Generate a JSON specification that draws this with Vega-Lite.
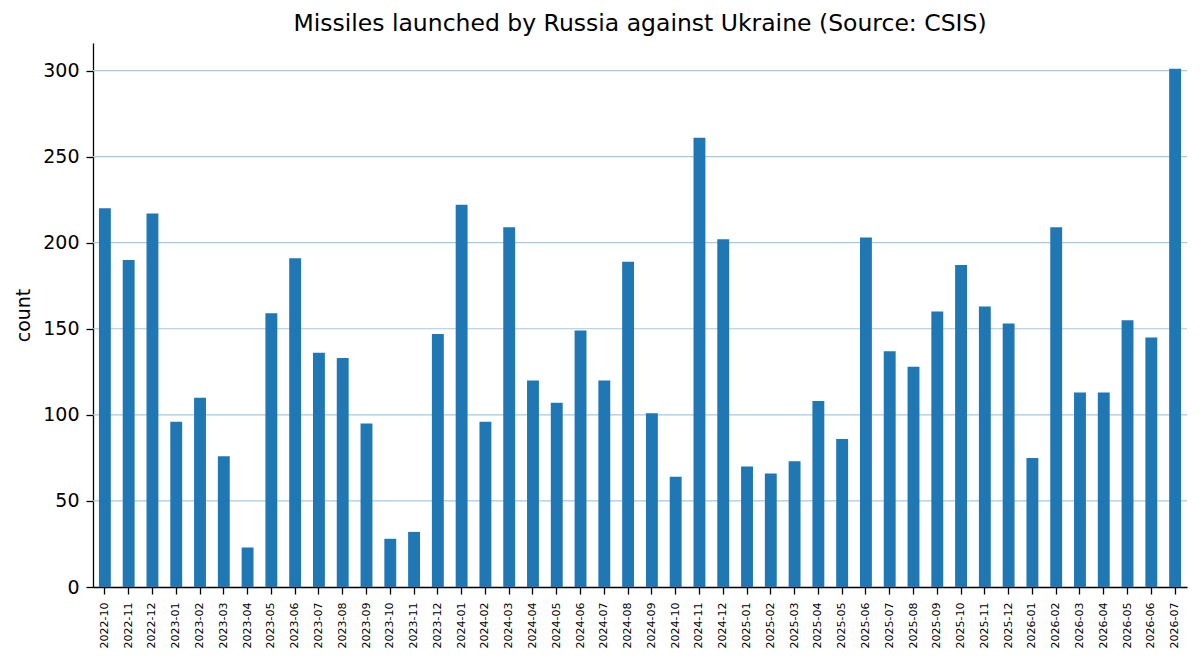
{
  "$schema": "https://vega.github.io/schema/vega-lite/v6.json",
  "autosize": {"type": "none"},
  "width": 1094,
  "height": 544,
  "padding": {"left": 93, "top": 43, "right": 13, "bottom": 77},
  "background": "white",
  "title": {
    "text": "Missiles launched by Russia against Ukraine (Source: CSIS)",
    "font": "DejaVu Sans",
    "fontSize": 23.5,
    "fontWeight": "normal",
    "color": "black",
    "offset": 8
  },
  "config": {
    "view": {"stroke": null},
    "axis": {
      "labelFont": "DejaVu Sans",
      "titleFont": "DejaVu Sans",
      "labelColor": "black",
      "titleColor": "black",
      "domainColor": "black",
      "tickColor": "black",
      "domainWidth": 1.3,
      "tickWidth": 1.3,
      "tickSize": 7,
      "grid": false
    }
  },
  "datasets": {
    "missiles": [
      {"month": "2022-10", "count": 220},
      {"month": "2022-11", "count": 190},
      {"month": "2022-12", "count": 217},
      {"month": "2023-01", "count": 96},
      {"month": "2023-02", "count": 110},
      {"month": "2023-03", "count": 76},
      {"month": "2023-04", "count": 23},
      {"month": "2023-05", "count": 159},
      {"month": "2023-06", "count": 191},
      {"month": "2023-07", "count": 136},
      {"month": "2023-08", "count": 133},
      {"month": "2023-09", "count": 95},
      {"month": "2023-10", "count": 28},
      {"month": "2023-11", "count": 32},
      {"month": "2023-12", "count": 147},
      {"month": "2024-01", "count": 222},
      {"month": "2024-02", "count": 96},
      {"month": "2024-03", "count": 209},
      {"month": "2024-04", "count": 120},
      {"month": "2024-05", "count": 107},
      {"month": "2024-06", "count": 149},
      {"month": "2024-07", "count": 120},
      {"month": "2024-08", "count": 189},
      {"month": "2024-09", "count": 101},
      {"month": "2024-10", "count": 64},
      {"month": "2024-11", "count": 261},
      {"month": "2024-12", "count": 202},
      {"month": "2025-01", "count": 70},
      {"month": "2025-02", "count": 66},
      {"month": "2025-03", "count": 73},
      {"month": "2025-04", "count": 108},
      {"month": "2025-05", "count": 86},
      {"month": "2025-06", "count": 203},
      {"month": "2025-07", "count": 137},
      {"month": "2025-08", "count": 128},
      {"month": "2025-09", "count": 160},
      {"month": "2025-10", "count": 187},
      {"month": "2025-11", "count": 163},
      {"month": "2025-12", "count": 153},
      {"month": "2026-01", "count": 75},
      {"month": "2026-02", "count": 209},
      {"month": "2026-03", "count": 113},
      {"month": "2026-04", "count": 113},
      {"month": "2026-05", "count": 155},
      {"month": "2026-06", "count": 145},
      {"month": "2026-07", "count": 301}
    ],
    "gridlines": [
      {"level": 50},
      {"level": 100},
      {"level": 150},
      {"level": 200},
      {"level": 250},
      {"level": 300}
    ]
  },
  "layer": [
    {
      "data": {"name": "gridlines"},
      "mark": {"type": "rule", "color": "#a6c9e2", "strokeWidth": 1.2},
      "encoding": {
        "y": {"field": "level", "type": "quantitative"}
      }
    },
    {
      "data": {"name": "missiles"},
      "mark": {"type": "bar", "color": "#1f77b4"},
      "encoding": {
        "x": {
          "field": "month",
          "type": "ordinal",
          "sort": null,
          "scale": {"paddingInner": 0.5, "paddingOuter": 0.25},
          "axis": {
            "title": null,
            "labelAngle": 270,
            "labelAlign": "right",
            "labelBaseline": "middle",
            "labelFontSize": 11,
            "labelPadding": 8
          }
        },
        "y": {
          "field": "count",
          "type": "quantitative",
          "scale": {"domain": [0, 316], "nice": false},
          "axis": {
            "title": "count",
            "titleFontSize": 19,
            "titleFontWeight": "normal",
            "titlePadding": 9,
            "labelFontSize": 19,
            "labelPadding": 7,
            "values": [0, 50, 100, 150, 200, 250, 300]
          }
        }
      }
    }
  ]
}
